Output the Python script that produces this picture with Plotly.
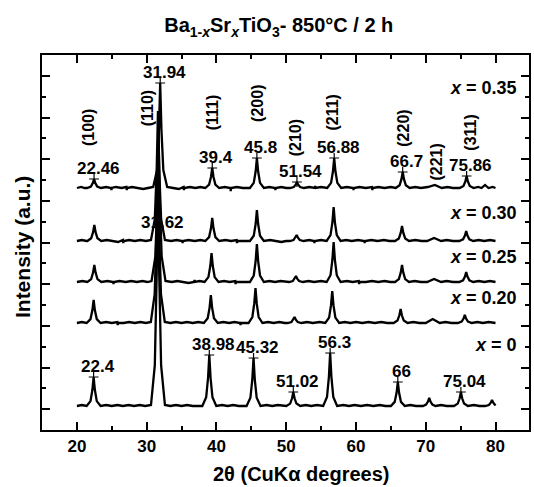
import plotly.graph_objects as go

# ---------------- data (2theta, intensity above each pattern's own baseline) -------------
P35 = [(20.0,0),(20.6,1),(21.1,0),
 (21.46,0),(22.01,1.5),(22.28,5),(22.46,9),(22.64,5),(22.91,1.5),(23.46,0),
 (24.2,1),(24.9,0),(24.95,-2),(25.0,0),(25.6,1),(26.4,0),(27.1,1),(27.15,-2),(27.2,0),(27.9,1),(28.7,0),(29.5,-1),(30.2,0),
 (30.94,1),(31.49,18),(31.76,58),(31.94,105),(32.12,58),(32.39,18),(32.94,1),
 (33.8,0),(34.6,-1),(35.3,1),(35.35,-2),(35.4,0),(36.2,1),(37.0,0),(37.7,1),
 (38.4,0),(38.95,3.4),(39.22,11),(39.4,20),(39.58,11),(39.85,3.4),(40.4,0),
 (41.2,1),(42.0,0),(42.05,-3),(42.1,0),(42.9,1),(43.8,0),
 (44.8,0),(45.35,5.1),(45.62,16.5),(45.8,30),(45.98,16.5),(46.25,5.1),(46.8,0),
 (47.6,1),(48.4,0),(48.45,-2),(48.5,0),(49.3,1),(50.0,0),
 (50.54,0),(51.09,1),(51.36,3.3),(51.54,6),(51.72,3.3),(51.99,1),(52.54,0),
 (53.3,1),(54.1,0),(54.15,2),(54.2,0),(55.0,1),
 (55.88,0),(56.43,5.1),(56.7,16.5),(56.88,30),(57.06,16.5),(57.33,5.1),(57.88,0),
 (58.7,1),(59.6,0),(59.65,-2),(59.7,0),(60.5,1),(61.4,0),(62.3,1),(62.35,-2),(62.4,0),(63.2,1),(64.1,0),(65.0,1),
 (65.7,0),(66.25,2.7),(66.52,8.8),(66.7,16),(66.88,8.8),(67.15,2.7),(67.7,0),
 (68.5,1),(69.3,0),(70.3,1),(71.3,3),(72.3,0),(73.1,1),(73.9,0),
 (74.86,0),(75.41,2),(75.68,6.6),(75.86,12),(76.04,6.6),(76.31,2),(76.86,0),
 (77.5,1),(78.0,0),(78.5,3),(79.0,0),(79.6,1),(80.0,0)]

P30 = [(20.0,0),(20.7,1),(21.4,0),
 (21.5,0),(22.05,2.7),(22.32,8.8),(22.5,16),(22.68,8.8),(22.95,2.7),(23.5,0),
 (24.3,1),(25.1,0),(25.9,-1),(26.6,1),(26.65,-2),(26.7,0),(27.5,1),(28.3,0),(29.1,1),(29.9,0),
 (30.62,1),(31.17,22),(31.44,71.5),(31.62,130),(31.8,71.5),(32.07,22),(32.62,1),
 (33.5,0),(34.3,1),(35.1,0),(35.15,-2),(35.2,0),(36.0,1),(36.9,0),(37.7,1),
 (38.4,0),(38.95,3.9),(39.22,12.7),(39.4,23),(39.58,12.7),(39.85,3.9),(40.4,0),
 (41.3,1),(42.1,0),(42.9,1),(42.95,-2),(43.0,0),(43.9,0),
 (44.8,0),(45.35,5.3),(45.62,17),(45.8,31),(45.98,17),(46.25,5.3),(46.8,0),
 (47.7,1),(48.5,0),(49.3,-1),(50.0,0),
 (50.5,0),(51.05,1),(51.32,3.3),(51.5,6),(51.68,3.3),(51.95,1),(52.5,0),
 (53.3,1),(54.0,0),(54.05,-2),(54.1,0),(55.0,1),
 (55.8,0),(56.35,5.8),(56.62,18.7),(56.8,34),(56.98,18.7),(57.25,5.8),(57.8,0),
 (58.6,1),(59.4,0),(60.3,1),(61.2,0),(61.25,-2),(61.3,0),(62.2,1),(63.1,0),(64.0,1),(64.8,0),
 (65.6,0),(66.15,2.6),(66.42,8.3),(66.6,15),(66.78,8.3),(67.05,2.6),(67.6,0),
 (68.5,1),(69.4,0),(70.2,0),(71.2,3),(72.2,0),(73.0,1),(73.9,0),
 (74.8,0),(75.35,1.7),(75.62,5.5),(75.8,10),(75.98,5.5),(76.25,1.7),(76.8,0),
 (77.6,1),(78.4,0),(79.2,1),(80.0,0)]

P25 = [(20.0,0),(20.8,1),(21.5,0),
 (22.05,2.9),(22.32,9.4),(22.5,17),(22.68,9.4),(22.95,2.9),(23.5,0),
 (24.4,1),(25.2,0),(25.25,-2),(25.3,0),(26.1,1),(27.0,0),(27.8,1),(28.6,0),(29.4,1),(30.1,0),
 (30.7,1),(31.25,25.5),(31.52,82.5),(31.7,150),(31.88,82.5),(32.15,25.5),(32.7,1),
 (33.6,0),(34.4,1),(35.2,0),(36.0,-1),(36.8,0),(36.85,2),(36.9,0),(37.6,1),
 (38.3,0),(38.85,4.9),(39.12,16),(39.3,29),(39.48,16),(39.75,4.9),(40.3,0),
 (41.1,1),(41.9,0),(42.7,1),(42.75,-2),(42.8,0),(43.8,0),
 (44.8,0),(45.35,6.5),(45.62,20.9),(45.8,38),(45.98,20.9),(46.25,6.5),(46.8,0),
 (47.6,1),(48.4,0),(49.2,1),(50.0,0),
 (50.4,0),(50.95,1),(51.22,3.3),(51.4,6),(51.58,3.3),(51.85,1),(52.4,0),
 (53.2,1),(54.0,0),(55.0,1),
 (55.8,0),(56.35,6.8),(56.62,22),(56.8,40),(56.98,22),(57.25,6.8),(57.8,0),
 (58.7,1),(59.5,0),(60.4,1),(60.45,-2),(60.5,0),(61.4,0),(62.3,1),(63.2,0),(64.1,1),(64.9,0),
 (65.6,0),(66.15,2.9),(66.42,9.4),(66.6,17),(66.78,9.4),(67.05,2.9),(67.6,0),
 (68.4,1),(69.3,0),(70.2,0),(71.2,3),(72.2,0),(73.0,1),(73.9,0),
 (74.8,0),(75.35,1.7),(75.62,5.5),(75.8,10),(75.98,5.5),(76.25,1.7),(76.8,0),
 (77.6,1),(78.4,0),(79.2,1),(80.0,0)]

P20 = [(20.0,0),(20.7,1),(21.4,0),
 (21.95,3.9),(22.22,12.7),(22.4,23),(22.58,12.7),(22.85,3.9),(23.4,0),
 (24.2,1),(25.0,0),(25.8,1),(25.85,-2),(25.9,0),(26.7,0),(27.5,1),(28.3,0),(29.1,1),(29.9,0),
 (30.6,1),(31.15,28.9),(31.42,93.5),(31.6,170),(31.78,93.5),(32.05,28.9),(32.6,1),
 (33.4,0),(34.2,1),(35.0,0),(35.8,1),(36.6,0),(37.4,1),
 (38.2,0),(38.75,4.8),(39.02,15.4),(39.2,28),(39.38,15.4),(39.65,4.8),(40.2,0),
 (41.0,1),(41.8,0),(42.6,1),(43.4,0),(43.45,-2),(43.5,0),
 (44.6,0),(45.15,6),(45.42,19.3),(45.6,35),(45.78,19.3),(46.05,6),(46.6,0),
 (47.4,1),(48.2,0),(49.0,1),(49.8,0),
 (50.2,0),(50.75,1),(51.02,3.3),(51.2,6),(51.38,3.3),(51.65,1),(52.2,0),
 (53.0,1),(53.8,0),(54.8,1),
 (55.6,0),(56.15,5.4),(56.42,17.6),(56.6,32),(56.78,17.6),(57.05,5.4),(57.6,0),
 (58.4,1),(59.2,0),(60.0,1),(60.9,0),(61.8,1),(62.7,0),(63.6,1),(64.5,0),
 (65.4,0),(65.95,2.4),(66.22,7.7),(66.4,14),(66.58,7.7),(66.85,2.4),(67.4,0),
 (68.2,1),(69.1,0),(70.0,0),(71.0,4),(72.0,0),(72.8,1),(73.7,0),
 (74.6,0),(75.15,1.4),(75.42,4.4),(75.6,8),(75.78,4.4),(76.05,1.4),(76.6,0),
 (77.4,1),(78.2,0),(79.0,1),(80.0,0)]

P00 = [(20.0,0),(20.7,1),(21.4,0),
 (21.95,4.9),(22.22,16),(22.4,29),(22.58,16),(22.85,4.9),(23.4,0),
 (24.2,1),(25.0,0),(25.8,1),(26.6,0),(27.4,1),(28.2,0),(29.0,1),(29.8,0),
 (30.62,1),(31.17,40.8),(31.44,132),(31.62,240),(31.8,132),(32.07,40.8),(32.62,1),
 (33.4,0),(34.2,1),(35.0,0),(35.8,1),(36.6,0),(37.4,0),
 (37.98,0),(38.53,8.7),(38.8,28),(38.98,51),(39.16,28),(39.43,8.7),(39.98,0),
 (40.8,1),(41.6,0),(42.4,1),(43.2,0),(44.0,0),
 (44.32,0),(44.87,8.2),(45.14,26.4),(45.32,48),(45.5,26.4),(45.77,8.2),(46.32,0),
 (47.2,1),(48.0,0),(48.8,1),(49.6,0),
 (50.02,0),(50.57,2.4),(50.84,7.7),(51.02,14),(51.2,7.7),(51.47,2.4),(52.02,0),
 (52.8,1),(53.6,0),(54.4,1),
 (55.3,0),(55.85,9),(56.12,29.2),(56.3,53),(56.48,29.2),(56.75,9),(57.3,0),
 (58.2,1),(59.0,0),(59.8,1),(60.7,0),(61.6,1),(62.5,0),(63.4,1),(64.2,0),
 (65.0,0),(65.55,4.1),(65.82,13.2),(66.0,24),(66.18,13.2),(66.45,4.1),(67.0,0),
 (67.8,1),(68.6,0),(69.4,0),
 (69.6,0),(70.05,1.4),(70.32,4.4),(70.5,8),(70.68,4.4),(70.95,1.4),(71.4,0),
 (72.2,1),(73.0,0),(73.8,0),
 (74.04,0),(74.59,2.4),(74.86,7.7),(75.04,14),(75.22,7.7),(75.49,2.4),(76.04,0),
 (76.9,1),(77.7,0),(78.5,0),(79.05,1),(79.32,3.3),(79.5,6),(79.68,3.3),(80.0,0.5)]

SERIES = [P00, P20, P25, P30, P35]
COMPOSITIONS = ["0", "0.20", "0.25", "0.30", "0.35"]
OFFSETS = [24, 107, 148, 189, 242]            # vertical stacking offsets (a.u.)
LABEL_Y = [85, 132, 173, 217, 342]            # y of the "x = ..." labels (a.u.)

PEAKS_035 = [22.46, 31.94, 39.4, 45.8, 51.54, 56.88, 66.7, 75.86]
PEAKS_035_TXT = ["22.46", "31.94", "39.4", "45.8", "51.54", "56.88", "66.7", "75.86"]
PEAKS_000 = [22.4, 38.98, 45.32, 51.02, 56.3, 66.0, 75.04]
PEAKS_000_TXT = ["22.4", "38.98", "45.32", "51.02", "56.3", "66", "75.04"]

HKL = ["(100)", "(110)", "(111)", "(200)", "(210)", "(211)", "(220)", "(221)", "(311)"]
HKL_X = [21.6, 30.1, 39.4, 45.8, 51.3, 56.5, 66.7, 71.4, 76.3]
HKL_Y = [302, 322, 318, 327, 292, 317, 302, 268, 297]

FONT = "Arial, 'Liberation Sans', Helvetica, sans-serif"

fig = go.Figure()
for pts, off in zip(SERIES, OFFSETS):
    fig.add_trace(go.Scatter(
        x=[p[0] for p in pts], y=[p[1] + off for p in pts],
        mode="lines", line=dict(color="black", width=2.3), showlegend=False, hoverinfo="skip"))

# peak markers
def peak_points(pts, off, peaks):
    d = dict(pts)
    return [d[p] + off for p in peaks]

y35 = peak_points(P35, OFFSETS[4], PEAKS_035)
y00 = peak_points(P00, OFFSETS[0], PEAKS_000)
fig.add_trace(go.Scatter(x=PEAKS_035 + PEAKS_000, y=y35 + y00, mode="markers",
                         marker=dict(symbol="cross-thin", size=7, line=dict(color="black", width=1.2)),
                         showlegend=False, hoverinfo="skip"))

ann = []
for x, y, t in zip(PEAKS_035 + PEAKS_000, y35 + y00, PEAKS_035_TXT + PEAKS_000_TXT):
    ann.append(dict(x=x, y=y, text="<b>%s</b>" % t, showarrow=False, xshift=4, yshift=11,
                    xanchor="center", yanchor="middle",
                    font=dict(size=17, family=FONT, color="black")))
# 31.62 label for x = 0.30
ann.append(dict(x=31.62, y=OFFSETS[3], text="<b>31.62</b>", showarrow=False, xshift=5, yshift=19,
                xanchor="center", yanchor="middle",
                font=dict(size=17, family=FONT, color="black")))
for t, x, y in zip(HKL, HKL_X, HKL_Y):
    ann.append(dict(x=x, y=y, text="<b>%s</b>" % t, showarrow=False, textangle=-90,
                    xanchor="center", yanchor="middle",
                    font=dict(size=16, family=FONT, color="black")))
for c, y in zip(COMPOSITIONS, LABEL_Y):
    ann.append(dict(x=83.4, y=y, text="<b><i>x</i> = %s</b>" % c, showarrow=False,
                    xanchor="right", yanchor="middle",
                    font=dict(size=18, family=FONT, color="black")))
# axis titles
ann.append(dict(xref="paper", yref="paper", x=-0.041, y=0.488, text="<b>Intensity (a.u.)</b>",
                textangle=-90, showarrow=False, xanchor="center", yanchor="middle",
                font=dict(size=21, family=FONT, color="black")))
ann.append(dict(xref="paper", yref="paper", x=0.532, y=-0.117, text="<b>2θ (CuKα degrees)</b>",
                showarrow=False, xanchor="center", yanchor="middle",
                font=dict(size=20, family=FONT, color="black")))

fig.update_layout(
    width=534, height=487,
    margin=dict(l=42, r=3, t=55, b=57),
    paper_bgcolor="white", plot_bgcolor="white",
    title=dict(text="<b>Ba<sub>1-<i>x</i></sub>Sr<sub><i>x</i></sub>TiO<sub>3</sub>- 850°C / 2 h</b>",
               x=0.522, xanchor="center", y=0.948, yanchor="middle",
               font=dict(size=20, family=FONT, color="black")),
    annotations=ann,
    font=dict(family=FONT, color="black"),
)
fig.update_xaxes(range=[15, 84.8], showgrid=False, zeroline=False,
                 showline=True, linecolor="black", linewidth=2, mirror="ticks",
                 ticks="inside", ticklen=8, tickwidth=2, tickcolor="black",
                 tick0=0, dtick=10,
                 tickfont=dict(size=17, family=FONT, color="black"),
                 tickprefix="<b>", ticksuffix="</b>",
                 minor=dict(dtick=5, ticklen=4, tickwidth=2, tickcolor="black", ticks="inside"))
fig.update_yaxes(range=[0, 375], showgrid=False, zeroline=False,
                 showline=True, linecolor="black", linewidth=2, mirror="ticks",
                 ticks="inside", ticklen=8, tickwidth=2, tickcolor="black",
                 tick0=375/18, dtick=375/9, showticklabels=False,
                 minor=dict(dtick=375/18, ticklen=4, tickwidth=2, tickcolor="black", ticks="inside"))

fig.write_html("out.html", config={"displayModeBar": False},
               post_script="document.body.style.margin='0';document.body.style.padding='0';"
                           "document.documentElement.style.overflow='hidden';")
